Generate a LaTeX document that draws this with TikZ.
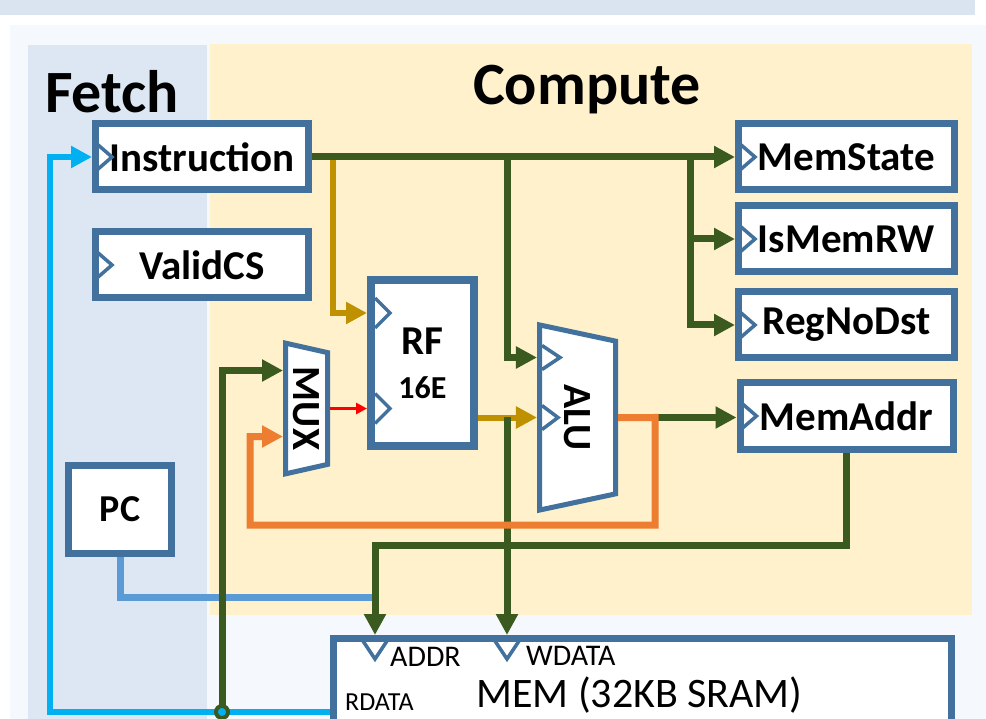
\documentclass[tikz,border=0pt]{standalone}
\usepackage{fontspec}
\setmainfont{Carlito}
\usetikzlibrary{arrows.meta, positioning, shapes.geometric, calc}

\definecolor{boxblue}{HTML}{41719C}
\definecolor{wgreen}{HTML}{3B5A1F}
\definecolor{wgold}{HTML}{BF9000}
\definecolor{worange}{HTML}{ED7D31}
\definecolor{wcyan}{HTML}{00B0F0}
\definecolor{wpc}{HTML}{5B9BD5}
\definecolor{fetchbg}{HTML}{DDE7F3}
\definecolor{compbg}{HTML}{FFF1CC}
\definecolor{panelbg}{HTML}{F5F8FC}
\definecolor{bandbg}{HTML}{DAE4F0}

\begin{document}
\begin{tikzpicture}[x=1pt, y=-1pt,
        reg/.style={rectangle, draw=boxblue, line width=7pt, fill=white,
                    minimum width=213pt, minimum height=66pt, inner sep=0pt,
                    font=\fontsize{41}{48}\selectfont\bfseries},
        unit/.style={trapezium, draw=boxblue, line width=5pt, fill=white, rotate=-90,
                     trapezium left angle=75, trapezium right angle=75,
                     trapezium stretches=true, inner sep=0pt,
                     font=\fontsize{40}{48}\selectfont\bfseries},
        clk/.style={draw=boxblue, line width=3.5pt},
        gw/.style={draw=wgreen, line width=7pt},
        yw/.style={draw=wgold, line width=6pt},
        ow/.style={draw=worange, line width=7pt},
        cw/.style={draw=wcyan, line width=6pt},
        pw/.style={draw=wpc, line width=7pt},
        rw/.style={draw=red, line width=3pt},
        arr/.style={-{Triangle[length=21pt,width=21pt]}},
        tag/.style={inner sep=0pt, anchor=base west, font=\fontsize{30}{36}\selectfont},
        title/.style={inner sep=0pt, font=\fontsize{60}{70}\selectfont\bfseries},
        node distance=9pt]
      \useasboundingbox (0,0) rectangle (986,719);
      \fill[white] (0,0) rectangle (986,719);
      \fill[bandbg] (0,0) rectangle (975,15);
      \fill[panelbg] (10,25) rectangle (986,719);
      \fill[fetchbg] (28,45) rectangle (207,719);
      \fill[compbg] (210,44) rectangle (972,615);

      \node[title] (fetch) at (112,92) {Fetch};
      \node[title] (compute) at (587,90) {Compute};

      \node[reg] (inst) at (202,157) {Instruction};
      \node[reg, below=35pt of inst] (vcs) {ValidCS};
      \node[reg, minimum width=216pt] (memst) at (846.5,157) {MemState};
      \node[reg, minimum width=216pt, below=of memst] (ismem) {IsMemRW};
      \node[reg, minimum width=216pt, below=13pt of ismem] (regno) {RegNoDst};
      \node[reg, below=18pt of regno] (memaddr) {MemAddr};
      \node[reg, minimum width=103pt, minimum height=88pt,
            font=\fontsize{38}{44}\selectfont\bfseries] (pc) at (120,509.5) {PC};
      \node[reg, line width=8pt, minimum width=103pt, minimum height=166pt,
            align=center] (rf) at (422.5,363) {RF\\[-4pt]{\fontsize{32}{38}\selectfont 16E}};
      \node[unit, minimum width=132pt, minimum height=42pt] (mux) at (306.5,408.5) {MUX};
      \node[unit, minimum width=186pt, minimum height=76pt] (alu) at (577.5,417.5) {ALU};
      \node[reg, minimum width=618pt, minimum height=147pt] (mem) at (642.5,712) {};
      \node[tag] (addr) at (390,666) {ADDR};
      \node[tag] (wdata) at (526,665) {WDATA};
      \node[tag, font=\fontsize{26}{30}\selectfont] (rdata) at (345,710) {RDATA};
      \node[tag, font=\fontsize{42}{48}\selectfont] (memt) at (476,707) {MEM (32KB SRAM)};

      \foreach \n in {inst, vcs, memst, ismem, regno, memaddr}
        \draw[clk] ($(\n.west)+(5,-13)$) -- ++(15,13) -- ++(-15,13);
      \draw[clk] ($(rf.west)+(8,-65)$) -- ++(15,15) -- ++(-15,15);
      \draw[clk] ($(rf.west)+(8,30.5)$) -- ++(15,15) -- ++(-15,15);
      \draw[clk] ($(alu.south)+(5,-72)$) -- ++(18,12) -- ++(-18,12);
      \draw[clk] ($(alu.south)+(5,-12)$) -- ++(16,12) -- ++(-16,12);
      \draw[clk] ($(mem.north west)+(33,6)$) -- ++(12,18) -- ++(12,-18);
      \draw[clk] ($(mem.north west)+(165,6)$) -- ++(12,18) -- ++(12,-18);

      \coordinate (wd) at (507,417.5);
      \coordinate (jb) at (690,157);
      \coordinate (fb) at (655,417.5);
      \coordinate (jc) at (222,712);

      \draw[yw, arr] ($(inst.east)+(21,0)$) |- ($(rf.west)+(0,-50)$);
      \draw[yw, arr] (rf.east |- alu.south) -- (alu.south);
      \draw[pw] (pc.south) |- (375,597);
      \draw[gw, arr] (inst.east) -- (memst.west);
      \draw[gw, arr] (inst.east -| wd) |- ($(alu.south)+(0,-60)$);
      \draw[gw, arr] (jb) |- (ismem.west);
      \draw[gw, arr] (jb) |- (regno.west);
      \draw[gw, arr] (wd) -- ($(mem.north west)+(177,0)$);
      \draw[gw, arr] (fb) -- (memaddr.west |- fb);
      \draw[gw, arr] (memaddr.south) |- (375,545) -- ($(mem.north west)+(45,0)$);
      \draw[gw, arr] (jc) |- ($(mux.south)+(0,-38)$);
      \draw[ow, arr] (alu.north) -- (fb) |- (250,525) |- ($(mux.south)+(0,28)$);
      \draw[rw, -{Triangle[length=11pt,width=11pt]}] (mux.north) -- (rf.west |- mux.north);
      \draw[cw, arr] (mem.west) -| ($(inst.west)+(-42,0)$) -- (inst.west);
      \node[circle, draw=wgreen, line width=4pt, fill=wcyan, minimum size=12pt,
            inner sep=0pt] (jdot) at (jc) {};
    \end{tikzpicture}
\end{document}
